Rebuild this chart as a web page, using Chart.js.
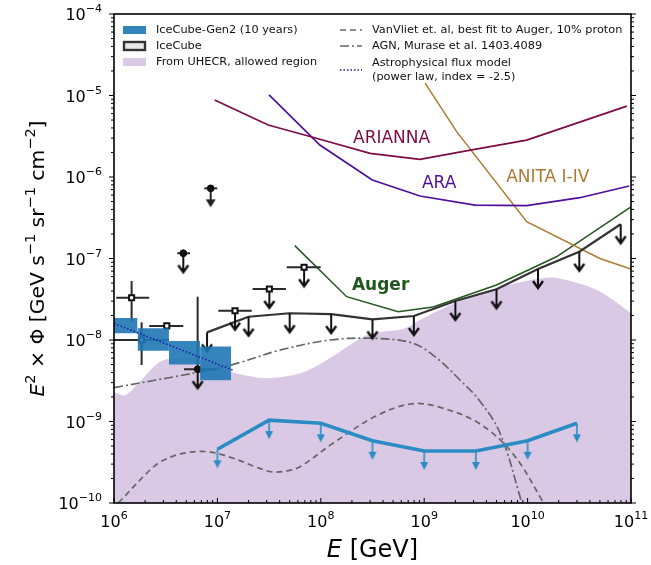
<!DOCTYPE html>
<html lang="en">
<head>
<meta charset="UTF-8">
<title>Neutrino flux: IceCube, IceCube-Gen2 and radio limits</title>
<script src="https://cdn.jsdelivr.net/npm/chart.js"></script>
<style>
  body { margin: 0; padding: 0; background: #ffffff; }
  canvas { display: block; }
</style>
</head>
<body>
<canvas id="fluxChart" width="651" height="565"></canvas>
<script>
// E in GeV, flux = E^2 * Phi in GeV s^-1 sr^-1 cm^-2

// allowed region from UHECR (upper edge of the shaded band)
const uhecrE    = [1.0e6, 1.28e6, 1.78e6, 2.79e6, 4.35e6, 6.8e6, 1.42e7, 3.0e7, 6.3e7, 1.15e8, 2.56e8, 3.74e8, 6.24e8, 9.1e8, 2.08e9, 5.06e9, 1.23e10, 1.92e10, 4.7e10, 1.0e11];
const uhecrFlux = [2.3e-9, 2.1e-9, 3.1e-9, 5.4e-9, 6.0e-9, 5.7e-9, 4.0e-9, 3.4e-9, 3.9e-9, 5.7e-9, 1.09e-8, 1.25e-8, 1.36e-8, 1.76e-8, 2.92e-8, 4.35e-8, 5.6e-8, 5.77e-8, 4.1e-8, 2.14e-8];

// radio / UHE experiments
const ariannaE    = [9.4e6, 3.1e7, 8.2e7, 3.0e8, 9.1e8, 2.8e9, 9.8e9, 9.1e10];
const ariannaFlux = [8.8e-6, 4.35e-6, 3.1e-6, 1.95e-6, 1.65e-6, 2.14e-6, 2.84e-6, 7.4e-6];
const araE        = [3.16e7, 9.8e7, 3.15e8, 9.1e8, 3.1e9, 9.8e9, 3.2e10, 9.6e10];
const araFlux     = [1.02e-5, 2.47e-6, 9.2e-7, 5.85e-7, 4.53e-7, 4.45e-7, 5.57e-7, 7.76e-7];
const anitaE      = [1.02e9, 2.06e9, 9.8e9, 5.0e10, 1.0e11];
const anitaFlux   = [1.42e-5, 3.6e-6, 2.83e-7, 1.0e-7, 7.4e-8];
const augerE      = [5.6e7, 1.78e8, 5.6e8, 1.22e9, 5.0e9, 1.9e10, 1.0e11];
const augerFlux   = [1.44e-7, 3.4e-8, 2.22e-8, 2.54e-8, 4.73e-8, 1.05e-7, 4.3e-7];

// IceCube differential upper limits
const icLimE    = [7.94e6, 2.0e7, 5.0e7, 1.26e8, 3.16e8, 7.94e8, 2.0e9, 5.0e9, 1.26e10, 3.16e10, 7.94e10];
const icLimFlux = [1.24e-8, 1.93e-8, 2.13e-8, 2.08e-8, 1.79e-8, 1.97e-8, 3.01e-8, 4.19e-8, 7.43e-8, 1.21e-7, 2.63e-7];

// IceCube-Gen2 (10 years) sensitivity
const gen2E    = [1e7, 3.16e7, 1e8, 3.16e8, 1e9, 3.16e9, 1e10, 3e10];
const gen2Flux = [4.56e-10, 1.04e-9, 9.5e-10, 5.8e-10, 4.35e-10, 4.35e-10, 5.8e-10, 9.5e-10];

// models
const vanvlietE    = [1.1e6, 2.23e6, 2.94e6, 4.65e6, 8.1e6, 1.42e7, 2.3e7, 3.28e7, 4.5e7, 6.3e7, 1.31e8, 3.34e8, 7.3e8, 1.35e9, 3.39e9, 7.15e9, 1.37e10, 1.47e10];
const vanvlietFlux = [1.0e-10, 2.54e-10, 3.3e-10, 4.07e-10, 4.26e-10, 3.54e-10, 2.8e-10, 2.42e-10, 2.45e-10, 2.79e-10, 5.4e-10, 1.15e-9, 1.64e-9, 1.52e-9, 9.5e-10, 4.07e-10, 1.09e-10, 8.2e-11];
const agnE         = [1.0e6, 8.5e6, 1.66e7, 4.0e7, 1.23e8, 3.2e8, 7.8e8, 1.33e9, 2.22e9, 3.39e9, 5.41e9, 8.63e9, 9.03e9];
const agnFlux      = [2.6e-9, 4.3e-9, 5.3e-9, 7.5e-9, 1.0e-8, 1.05e-8, 9.12e-9, 5.97e-9, 3.23e-9, 1.84e-9, 7.23e-10, 1.09e-10, 8.2e-11];
const astroE       = [1.0e6, 1.4e7];
const astroFlux    = [1.6e-8, 4.28e-9];

// IceCube-Gen2 measurement boxes
const boxELo    = [8.5e5, 1.69e6, 3.4e6, 6.8e6];
const boxEHi    = [1.69e6, 3.4e6, 6.8e6, 1.36e7];
const boxTop    = [1.86e-8, 1.39e-8, 9.7e-9, 8.3e-9];
const boxBottom = [1.21e-8, 7.4e-9, 5.0e-9, 3.2e-9];

// IceCube data points with error bars
const icE    = [1.48e6, 1.85e6, 3.24e6, 6.44e6, 4.68e6, 8.61e6, 1.48e7, 3.18e7, 6.89e7];
const icFlux = [3.3e-8, 1.0e-8, 1.49e-8, 4.38e-9, 1.16e-7, 7.26e-7, 2.29e-8, 4.23e-8, 7.8e-8];
const icELo  = [1.05e6, 0.99e6, 2.19e6, 4.75e6, 4.09e6, 7.46e6, 1.02e7, 2.19e7, 4.68e7];
const icEHi  = [2.19e6, 3.4e6, 4.68e6, 9.84e6, 5.43e6, 9.97e6, 2.15e7, 4.6e7, 9.98e7];
const icFLo  = [1.68e-8, 4.93e-9, 1.49e-8, 4.38e-9, 1.16e-7, 7.26e-7, 2.29e-8, 4.23e-8, 7.8e-8];
const icFHi  = [5.3e-8, 1.65e-8, 1.49e-8, 3.4e-8, 1.16e-7, 7.26e-7, 2.29e-8, 4.23e-8, 7.8e-8];

// axes
const xTickExp = [6, 7, 8, 9, 10, 11];
const yTickExp = [-4, -5, -6, -7, -8, -9, -10];

const FONT = '"DejaVu Sans", sans-serif';
const lavender = '#d9c9e5';
const boxBlue = 'rgba(31,119,180,0.9)';
const gen2Blue = '#2b8cc4';
const clear = 'rgba(0,0,0,0)';

function pts(E, F) {
    return E.map((e, i) => ({ x: e, y: F[i] }));
}

// arrow images used as point styles; the image centre sits on the data point
function makeArrow(color, len, headW, headH, lineW, open) {
    const c = document.createElement('canvas');
    c.width = headW + 6;
    c.height = 2 * len + 6;
    const g = c.getContext('2d');
    const cx = c.width / 2, top = c.height / 2, tip = top + len;
    g.strokeStyle = color;
    g.fillStyle = color;
    g.lineWidth = lineW;
    g.beginPath();
    g.moveTo(cx, top);
    g.lineTo(cx, tip - (open ? 1 : headH));
    g.stroke();
    g.beginPath();
    g.moveTo(cx - headW / 2, tip - headH);
    g.lineTo(cx, tip);
    g.lineTo(cx + headW / 2, tip - headH);
    if (open) {
        g.lineWidth = 2.4;
        g.lineJoin = 'miter';
        g.stroke();
    } else {
        g.closePath();
        g.fill();
    }
    return c;
}

const blueArrow = makeArrow(gen2Blue, 19, 8, 8, 1.6, false);
const blackArrow = makeArrow('#111111', 19, 10, 7, 2, true);
const blackArrowFilled = makeArrow('#222222', 19, 10, 8, 2, false);

function lineSet(E, F, color, width, dash, order, tension) {
    return {
        data: pts(E, F), borderColor: color, borderWidth: width, borderDash: dash || [],
        showLine: true, pointRadius: 0, fill: false, order: order, tension: tension || 0
    };
}

const datasets = [];

// shaded UHECR region
datasets.push({
    data: pts(uhecrE, uhecrFlux), showLine: true, borderWidth: 0, borderColor: clear,
    backgroundColor: lavender, fill: 'start', pointRadius: 0, order: 50, tension: 0.3
});

datasets.push(lineSet(vanvlietE, vanvlietFlux, '#666666', 1.7, [6, 4], 40, 0.35));
datasets.push(lineSet(agnE, agnFlux, '#666666', 1.7, [9, 3, 2, 3], 40, 0.35));
datasets.push(lineSet(ariannaE, ariannaFlux, '#7d0b45', 1.7, null, 30));
datasets.push(lineSet(araE, araFlux, '#4f0f9c', 1.7, null, 30));
datasets.push(lineSet(anitaE, anitaFlux, '#ad7a34', 1.5, null, 30));
datasets.push(lineSet(augerE, augerFlux, '#22561f', 1.5, null, 30));

// IceCube limit line with arrows
const icLim = lineSet(icLimE, icLimFlux, '#333333', 2.2, null, 25);
icLim.pointStyle = blackArrow;
icLim.pointRadius = 3;
datasets.push(icLim);

// IceCube-Gen2 sensitivity with arrows
const gen2 = lineSet(gen2E, gen2Flux, gen2Blue, 3.6, null, 24);
gen2.pointStyle = blueArrow;
gen2.pointRadius = 3;
datasets.push(gen2);

// IceCube data: error bars
icE.forEach((e, i) => {
    datasets.push(lineSet([icELo[i], icEHi[i]], [icFlux[i], icFlux[i]], '#2a2a2a', 2, null, 20));
    if (icFLo[i] !== icFHi[i]) {
        datasets.push(lineSet([e, e], [icFLo[i], icFHi[i]], '#2a2a2a', 2, null, 20));
    }
});

const squareIdx = [0, 1, 2, 6, 7, 8];
const dotIdx = [3, 4, 5];
const openArrowIdx = [3, 4, 6, 7, 8];
const filledArrowIdx = [5];

function pick(idx) {
    return idx.map(i => ({ x: icE[i], y: icFlux[i] }));
}

datasets.push({ data: pick(openArrowIdx), showLine: false, pointStyle: blackArrow, pointRadius: 3, order: 19 });
datasets.push({ data: pick(filledArrowIdx), showLine: false, pointStyle: blackArrowFilled, pointRadius: 3, order: 19 });
datasets.push({
    data: pick(squareIdx), showLine: false, pointStyle: 'rect', pointRadius: 3.6,
    pointBackgroundColor: '#ffffff', pointBorderColor: '#111111', pointBorderWidth: 2, order: 18
});
datasets.push({
    data: pick(dotIdx), showLine: false, pointStyle: 'circle', pointRadius: 3.4,
    pointBackgroundColor: '#111111', pointBorderColor: '#111111', pointBorderWidth: 1, order: 18
});

// IceCube-Gen2 boxes
boxELo.forEach((lo, i) => {
    datasets.push({
        data: [{ x: lo, y: boxTop[i] }, { x: boxEHi[i], y: boxTop[i] }],
        showLine: true, borderWidth: 0, borderColor: clear, pointRadius: 0,
        backgroundColor: boxBlue, fill: { value: boxBottom[i] }, order: 10
    });
});

// astrophysical power law
datasets.push(lineSet(astroE, astroFlux, '#1a1aa8', 1.6, [1.5, 2], 5));

// curve labels, placed in data coordinates
const curveLabels = [
    { text: 'ARIANNA', x: 2.05e8, y: 3.0e-6, color: '#7d0b45', bold: false },
    { text: 'ARA', x: 9.5e8, y: 8.4e-7, color: '#4f0f9c', bold: false },
    { text: 'ANITA I-IV', x: 6.2e9, y: 9.7e-7, color: '#ad7a34', bold: false },
    { text: 'Auger', x: 2.0e8, y: 4.7e-8, color: '#22561f', bold: true }
];

function drawRich(ctx, parts, x, y, align) {
    let w = 0;
    parts.forEach(p => { ctx.font = p.f; w += ctx.measureText(p.t).width; });
    let cx = align === 'right' ? x - w : (align === 'center' ? x - w / 2 : x);
    ctx.textAlign = 'left';
    ctx.textBaseline = 'alphabetic';
    parts.forEach(p => {
        ctx.font = p.f;
        ctx.fillText(p.t, cx, y + (p.dy || 0));
        cx += ctx.measureText(p.t).width;
    });
}

function powParts(exp) {
    const s = exp < 0 ? '\u2212' + (-exp) : String(exp);
    return [{ t: '10', f: '16px ' + FONT }, { t: s, f: '11px ' + FONT, dy: -8 }];
}

function seg(ctx, x1, y1, x2, y2) {
    ctx.beginPath();
    ctx.moveTo(x1, y1);
    ctx.lineTo(x2, y2);
    ctx.stroke();
}

const overlay = {
    id: 'overlay',
    afterDatasetsDraw(chart) {
        const { ctx, scales: { x, y } } = chart;
        ctx.save();

        // curve labels
        curveLabels.forEach(l => {
            ctx.font = (l.bold ? 'bold ' : '') + '17px ' + FONT;
            ctx.fillStyle = l.color;
            ctx.textAlign = 'left';
            ctx.textBaseline = 'middle';
            ctx.fillText(l.text, x.getPixelForValue(l.x), y.getPixelForValue(l.y));
        });

        // legend
        ctx.font = '11.3px ' + FONT;
        ctx.fillStyle = '#111111';
        ctx.textAlign = 'left';
        ctx.textBaseline = 'middle';
        const c1 = 123, c2 = 340, sw = 23;
        ctx.fillStyle = boxBlue;
        ctx.fillRect(c1, 26, sw, 8);
        ctx.fillStyle = '#e8e8e8';
        ctx.fillRect(c1 + 1, 42, sw - 2, 8);
        ctx.strokeStyle = '#333333';
        ctx.lineWidth = 2.4;
        ctx.strokeRect(c1 + 1, 42, sw - 2, 8);
        ctx.fillStyle = lavender;
        ctx.fillRect(c1, 58, sw, 8);
        ctx.fillStyle = '#111111';
        ctx.fillText('IceCube-Gen2 (10 years)', 156, 30);
        ctx.fillText('IceCube', 156, 46);
        ctx.fillText('From UHECR, allowed region', 156, 62);

        ctx.strokeStyle = '#666666';
        ctx.lineWidth = 1.7;
        ctx.setLineDash([6, 4]);
        seg(ctx, c2, 30, c2 + 22, 30);
        ctx.setLineDash([9, 3, 2, 3]);
        seg(ctx, c2, 46, c2 + 22, 46);
        ctx.strokeStyle = '#1a1aa8';
        ctx.lineWidth = 1.6;
        ctx.setLineDash([1.5, 2]);
        seg(ctx, c2, 70, c2 + 22, 70);
        ctx.setLineDash([]);
        ctx.fillText('VanVliet et. al, best fit to Auger, 10% proton', 372, 30);
        ctx.fillText('AGN, Murase et al. 1403.4089', 372, 46);
        ctx.fillText('Astrophysical flux model', 372, 63);
        ctx.fillText('(power law, index = -2.5)', 372, 77);

        ctx.restore();
    },
    afterDraw(chart) {
        const { ctx, chartArea: a, scales: { x, y } } = chart;
        ctx.save();
        ctx.strokeStyle = '#000000';
        ctx.fillStyle = '#000000';

        // ticks
        ctx.lineWidth = 1;
        xTickExp.forEach(e => {
            for (let k = 1; k <= 9; k++) {
                const v = k * Math.pow(10, e);
                if (v > 1e11) break;
                const p = x.getPixelForValue(v);
                seg(ctx, p, a.bottom, p, a.bottom - (k === 1 ? 5 : 3));
            }
        });
        yTickExp.forEach(e => {
            for (let k = 1; k <= 9; k++) {
                const v = k * Math.pow(10, e);
                if (v > 1e-4) break;
                const p = y.getPixelForValue(v);
                const len = k === 1 ? 5 : 3;
                seg(ctx, a.left, p, a.left - len, p);
                seg(ctx, a.right, p, a.right + len, p);
            }
        });

        // frame
        ctx.lineWidth = 1.6;
        ctx.strokeRect(a.left, a.top, a.right - a.left, a.bottom - a.top);

        // tick labels
        xTickExp.forEach(e => {
            drawRich(ctx, powParts(e), x.getPixelForValue(Math.pow(10, e)), a.bottom + 24, 'center');
        });
        yTickExp.forEach(e => {
            drawRich(ctx, powParts(e), a.left - 12, y.getPixelForValue(Math.pow(10, e)) + 6, 'right');
        });

        // axis titles
        const xt = 'italic 24px ' + FONT, xr = '24px ' + FONT;
        drawRich(ctx, [{ t: 'E', f: xt }, { t: ' [GeV]', f: xr }], (a.left + a.right) / 2, a.bottom + 54, 'center');

        const big = '20.3px ' + FONT, it = 'italic 20.3px ' + FONT, sup = '14.5px ' + FONT;
        ctx.translate(44, (a.top + a.bottom) / 2);
        ctx.rotate(-Math.PI / 2);
        drawRich(ctx, [
            { t: 'E', f: it }, { t: '2', f: sup, dy: -9 },
            { t: ' \u00d7 \u03a6 [GeV s', f: big }, { t: '\u22121', f: sup, dy: -9 },
            { t: ' sr', f: big }, { t: '\u22121', f: sup, dy: -9 },
            { t: ' cm', f: big }, { t: '\u22122', f: sup, dy: -9 },
            { t: ']', f: big }
        ], 0, 0, 'center');
        ctx.restore();
    }
};

new Chart(document.getElementById('fluxChart').getContext('2d'), {
    type: 'line',
    data: { datasets: datasets },
    options: {
        responsive: false,
        animation: false,
        events: [],
        layout: { padding: { left: 114, right: 20, top: 14, bottom: 62 } },
        scales: {
            x: { type: 'logarithmic', min: 1e6, max: 1e11, display: false },
            y: { type: 'logarithmic', min: 1e-10, max: 1e-4, display: false }
        },
        plugins: {
            legend: { display: false },
            tooltip: { enabled: false }
        }
    },
    plugins: [overlay]
});
</script>
</body>
</html>
